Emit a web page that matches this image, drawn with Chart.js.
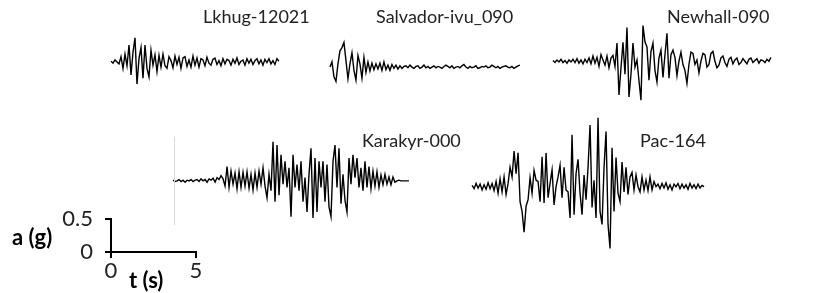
<!DOCTYPE html>
<html>
<head>
<meta charset="utf-8">
<script src="https://cdn.jsdelivr.net/npm/chart.js@4.4.0/dist/chart.umd.min.js"></script>
<style>
  html, body { margin: 0; padding: 0; background: #fff; }
  #wrap { position: relative; width: 833px; height: 293px; }
  #traces { position: absolute; left: 0; top: 0; }
  #scale { position: absolute; left: 0; top: 190px; }
</style>
</head>
<body>
<div id="wrap">
  <canvas id="traces" width="833" height="293"></canvas>
  <canvas id="scale" width="240" height="103"></canvas>
</div>
<script>
// acceleration records, in g, one sample every DT seconds
const DT = 0.1176;

const traceNames = ['Lkhug-12021', 'Salvador-ivu_090', 'Newhall-090', 'Karakyr-000', 'Pac-164'];

const lkhug = [
  0.01,-0.02,0.03,0.0,-0.03,
  0.08,-0.1,0.12,-0.06,
  0.26,-0.2,0.15,0.37,
  -0.34,0.05,0.22,-0.25,
  0.26,-0.1,-0.23,0.18,
  -0.05,0.11,-0.15,0.1,-0.08,
  0.12,-0.06,-0.1,0.08,0.02,-0.09,0.09,-0.04,0.07,-0.1,
  0.06,0.08,-0.07,0.03,-0.08,0.09,-0.05,0.06,-0.08,0.05,
  0.03,-0.06,0.07,-0.02,-0.05,0.04,0.06,-0.04,0.02,-0.06,
  0.05,-0.03,0.04,0.02,-0.05,0.04,-0.02,0.06,-0.04,0.01,
  0.03,-0.05,0.05,-0.02,0.04,-0.04,0.02,0.05,-0.03,0.03,
  -0.05,0.04,-0.01,0.05,-0.03,0.02,-0.04,0.05,0.01
];

const salvador = [
  0.0,0.08,-0.15,-0.22,0.05,0.25,0.3,0.38,0.1,-0.18,
  0.05,0.22,-0.05,-0.2,0.18,0.05,-0.17,0.15,-0.08,0.08,
  -0.06,0.06,-0.04,0.05,-0.03,0.06,-0.05,0.08,-0.04,0.03,
  -0.05,0.04,-0.02,0.03,-0.03,0.02,-0.02,0.01,
  0.02,-0.01,0.03,0.0,-0.02,0.01,0.02,-0.02,0.0,0.03,
  -0.01,0.01,-0.02,0.0,0.02,-0.01,0.01,0.0,-0.02,0.01,
  0.03,0.01,-0.01,0.02,-0.02,0.0,0.01,-0.01,0.02,0.04,
  0.0,-0.02,0.01,-0.01,0.0,0.02,-0.02,-0.01,0.01,0.0,
  0.02,-0.01,0.0,0.03,0.01,-0.01,0.01,-0.02,0.0,0.01,
  0.02,0.0,-0.01,0.01,-0.02,0.0,0.02,0.03
];

const newhall = [
  0.01,-0.02,0.02,-0.01,0.03,-0.02,0.01,-0.03,0.02,-0.01,
  0.03,-0.02,0.04,-0.03,0.02,-0.04,0.03,-0.02,0.05,
  -0.04,0.08,-0.03,0.06,-0.08,0.1,0.02,-0.06,0.08,-0.1,0.05,0.09,-0.08,
  0.28,-0.52,-0.1,0.29,-0.2,0.52,-0.55,-0.2,0.28,-0.09,
  0.02,-0.3,-0.6,0.55,0.3,0.22,-0.29,0.15,0.28,-0.14,
  -0.32,0.05,0.17,-0.25,0.1,0.43,-0.26,0.1,0.17,0.06,
  -0.22,0.0,0.14,-0.05,-0.14,-0.34,-0.05,0.14,0.12,-0.05,
  0.02,-0.18,0.0,0.12,0.1,-0.09,-0.05,
  0.12,0.15,0.0,-0.1,-0.06,0.05,0.08,-0.02,-0.08,0.03,
  0.06,-0.04,0.02,0.05,-0.05,-0.02,0.04,0.0,-0.04,0.03,
  0.05,-0.02,0.01,0.04,-0.03,0.02,0.01,-0.02,0.03,0.0,
  0.06
];

const karakyr = [
  0.01,-0.01,0.0,0.02,-0.01,0.01,-0.02,0.01,0.0,0.02,
  -0.01,0.01,0.02,-0.01,0.03,0.0,0.02,-0.02,0.03,0.01,
  0.04,-0.02,0.05,0.02,
  0.08,0.03,-0.08,0.22,-0.1,0.15,-0.05,0.12,-0.12,0.14,
  -0.1,0.13,-0.08,0.14,-0.11,0.1,-0.14,0.12,-0.1,0.15,
  -0.05,0.2,-0.08,-0.26,
  0.1,-0.15,0.6,-0.32,0.55,-0.22,0.4,-0.05,0.3,-0.1,
  0.2,-0.55,0.4,-0.1,0.25,-0.15,0.3,-0.32,0.05,-0.48,
  0.1,0.5,-0.57,0.35,-0.48,0.3,-0.1,0.3,-0.32,0.25,
  -0.4,-0.55,0.3,0.55,-0.1,0.5,-0.35,0.1,-0.3,-0.48,
  0.35,-0.05,0.4,0.05,0.35,-0.1,0.2,-0.15,0.3,-0.1,
  0.22,-0.12,0.15,-0.08,0.14,-0.1,0.09,-0.06,0.1,-0.05,
  0.06,-0.06,0.06,-0.02,
  0.0,0.01,0.0,0.0,0.0,0.0,0.0
];

const pac = [
  0.02,-0.03,0.05,-0.02,0.04,-0.05,0.03,-0.04,0.06,-0.03,0.05,-0.06,
  0.08,-0.1,0.12,-0.08,0.15,-0.12,0.05,0.3,0.15,0.55,
  0.2,0.52,-0.23,-0.38,-0.7,-0.3,-0.2,0.14,-0.1,0.25,
  0.1,0.08,-0.23,0.46,-0.25,0.52,-0.17,0.05,0.26,-0.28,
  0.0,0.15,0.33,-0.17,0.3,-0.05,-0.08,-0.48,0.8,-0.43,
  0.2,0.42,-0.1,-0.43,0.18,-0.2,0.3,0.95,-0.32,0.1,
  -0.48,1.06,-0.38,-0.58,0.3,0.85,-0.58,-0.95,0.6,-0.38,
  0.45,-0.1,-0.23,0.38,-0.08,0.3,-0.12,0.15,0.22,-0.05,
  0.18,0.0,-0.08,0.15,-0.05,0.1,-0.06,0.15,-0.05,0.08,
  0.0,
  0.04,-0.03,0.05,-0.02,0.06,-0.04,0.03,-0.05,0.04,0.0,
  0.05,-0.03,0.04,-0.02,0.03,-0.04,0.05,-0.02,0.03,-0.03,
  0.04,-0.02,0.02,0.0
];

// scale bar ticks
const timeTicks = [0, 5];
const accTicks = [0, 0.5];

// where each record sits on the sheet (start time, baseline in g)
const placement = [
  { acc: lkhug,    t0: 0.0,   base: 2.92, label: [203, 23] },
  { acc: salvador, t0: 12.88, base: 2.84, label: [376, 23] },
  { acc: newhall,  t0: 26.0,  base: 2.93, label: [667, 23] },
  { acc: karakyr,  t0: 3.65,  base: 1.09, label: [362, 147] },
  { acc: pac,      t0: 21.24, base: 1.0,  label: [640, 147] }
];

const FONT = 'Lato, "Liberation Sans", sans-serif';

const datasets = placement.map((p, k) => ({
  label: traceNames[k],
  data: p.acc.map((a, i) => ({ x: p.t0 + i * DT, y: p.base + a })),
  borderColor: '#000',
  borderWidth: 1.4,
  pointRadius: 0,
  tension: 0,
  fill: false
}));

const namePlugin = {
  id: 'names',
  afterDraw(chart) {
    const ctx = chart.ctx;
    ctx.save();
    // faint leftover axis line beside Karakyr
    const xs = chart.scales.x, ys = chart.scales.y;
    const kx = Math.round(xs.getPixelForValue(placement[3].t0)) + 1.5;
    ctx.strokeStyle = '#d9d9d9';
    ctx.lineWidth = 1;
    ctx.beginPath();
    ctx.moveTo(kx, ys.getPixelForValue(placement[3].base + 0.68));
    ctx.lineTo(kx, ys.getPixelForValue(placement[3].base - 0.68));
    ctx.stroke();

    ctx.fillStyle = '#222';
    ctx.font = '18px ' + FONT;
    ctx.textBaseline = 'alphabetic';
    placement.forEach((p, k) => ctx.fillText(traceNames[k], p.label[0], p.label[1]));
    ctx.restore();
  }
};

new Chart(document.getElementById('traces'), {
  type: 'line',
  data: { datasets: datasets },
  options: {
    responsive: false,
    animation: false,
    layout: { padding: 0 },
    plugins: { legend: { display: false }, tooltip: { enabled: false } },
    scales: {
      x: { type: 'linear', min: -6.53, max: 42.47, display: false },
      y: { type: 'linear', min: -0.635, max: 3.872, display: false }
    }
  },
  plugins: [namePlugin]
});

const titlePlugin = {
  id: 'titles',
  afterDraw(chart) {
    const ctx = chart.ctx;
    ctx.save();
    ctx.fillStyle = '#000';
    ctx.font = 'bold 22px ' + FONT;
    ctx.textBaseline = 'alphabetic';
    ctx.fillText('a (g)', 12, 55);
    ctx.fillText('t (s)', 129, 98);
    ctx.restore();
  }
};

const tickFont = { family: FONT, size: 22 };

new Chart(document.getElementById('scale'), {
  type: 'line',
  data: { datasets: [] },
  options: {
    responsive: false,
    animation: false,
    layout: { padding: { left: 0, right: 44, top: 29, bottom: 0 } },
    plugins: { legend: { display: false }, tooltip: { enabled: false } },
    scales: {
      x: {
        type: 'linear', min: 0, max: 5,
        afterBuildTicks: s => { s.ticks = timeTicks.map(v => ({ value: v })); },
        afterFit: s => { s.height = 41; },
        grid: { drawOnChartArea: false, tickLength: 6, color: '#000', lineWidth: 2 },
        border: { color: '#000', width: 2 },
        ticks: { font: tickFont, color: '#222', padding: 0, maxRotation: 0 }
      },
      y: {
        type: 'linear', min: 0, max: 0.5,
        afterBuildTicks: s => { s.ticks = accTicks.map(v => ({ value: v })); },
        afterFit: s => { s.width = 111; },
        grid: { drawOnChartArea: false, tickLength: 6, color: '#000', lineWidth: 2 },
        border: { color: '#000', width: 2 },
        ticks: { font: tickFont, color: '#222', padding: 12 }
      }
    }
  },
  plugins: [titlePlugin]
});
</script>
</body>
</html>
